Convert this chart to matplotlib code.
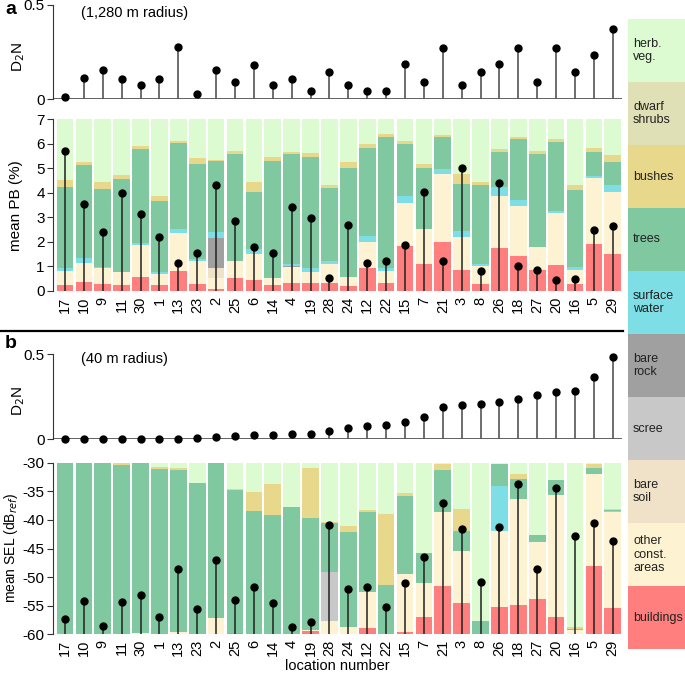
import matplotlib
matplotlib.use('Agg')
import matplotlib.pyplot as plt
import numpy as np
from matplotlib.patches import Rectangle
from matplotlib.lines import Line2D

plt.rcParams['font.family'] = ['Liberation Sans', 'DejaVu Sans']

# ---------------- data ----------------
locations = ['17', '10', '9', '11', '30', '1', '13', '23', '2', '25', '6', '14', '4', '19', '28',
             '24', '12', '22', '15', '7', '21', '3', '8', '26', '18', '27', '20', '16', '5', '29']

d2n_1280 = [0.012, 0.115, 0.157, 0.109, 0.074, 0.109, 0.276, 0.027, 0.157, 0.093, 0.183, 0.074, 0.108, 0.045, 0.146,
            0.074, 0.044, 0.044, 0.186, 0.092, 0.274, 0.074, 0.146, 0.186, 0.274, 0.092, 0.274, 0.146, 0.233, 0.373]
d2n_40 = [0.0, 0.0, 0.0, 0.0, 0.0, 0.002, 0.004, 0.008, 0.012, 0.02, 0.024, 0.024, 0.029, 0.03, 0.051,
          0.065, 0.076, 0.086, 0.10, 0.129, 0.188, 0.20, 0.208, 0.22, 0.239, 0.263, 0.276, 0.286, 0.367, 0.486]

categories = ['buildings', 'other\nconst.\nareas', 'bare\nsoil', 'scree', 'bare\nrock', 'surface\nwater',
              'trees', 'bushes', 'dwarf\nshrubs', 'herb.\nveg.']
cat_colors = ['#ff7f7f', '#fdf3d2', '#f0e2c8', '#c8c8c8', '#a0a0a0', '#7ddee6',
              '#7fc8a0', '#e7d88c', '#e0e0b6', '#dcfbd0']

# panel a: mean PB (%) per land-cover class
pb_buildings = [0.24, 0.35, 0.29, 0.24, 0.56, 0.24, 0.83, 0.30, 0.10, 0.54, 0.46, 0.23, 0.34, 0.34, 0.31,
                0.22, 0.94, 0.31, 1.83, 1.10, 2.01, 0.84, 0.30, 1.77, 1.43, 0.86, 1.06, 0.30, 1.93, 1.52]
pb_other = [0.59, 0.78, 0.66, 0.52, 1.32, 0.47, 1.55, 0.92, 0.42, 0.68, 1.04, 0.30, 0.62, 0.45, 0.78,
            0.34, 1.06, 0.52, 1.77, 1.41, 2.76, 1.38, 0.71, 2.10, 2.05, 0.93, 2.11, 0.57, 2.68, 2.52]
pb_soil = [0, 0, 0, 0, 0, 0, 0, 0, 0.40, 0, 0, 0, 0, 0, 0,
           0, 0, 0, 0, 0, 0, 0, 0, 0, 0, 0, 0, 0, 0, 0]
pb_scree = [0] * 30
pb_rock = [0, 0, 0, 0, 0, 0, 0, 0, 1.23, 0, 0, 0, 0.07, 0, 0,
           0, 0, 0, 0, 0, 0, 0, 0, 0, 0, 0, 0, 0, 0, 0]
pb_water = [0.09, 0.20, 0.04, 0, 0.09, 0.08, 0.15, 0.10, 0.26, 0, 0.21, 0, 0.07, 0.13, 0.13,
            0, 0.24, 0.11, 0.29, 0, 0.22, 0.24, 0.08, 0.38, 0.23, 0, 0.09, 0.11, 0.09, 0.28]
pb_trees = [3.33, 3.81, 3.17, 3.82, 3.82, 2.89, 3.49, 3.85, 2.89, 4.35, 2.34, 4.77, 4.49, 4.56, 2.99,
            4.47, 3.60, 5.34, 2.10, 2.52, 1.28, 1.89, 3.23, 1.43, 2.49, 3.81, 2.80, 3.15, 0.98, 0.93]
pb_bushes = [0.28, 0.12, 0.27, 0.14, 0.12, 0.19, 0.11, 0.27, 0.03, 0.14, 0.39, 0.18, 0.08, 0.13, 0.11,
             0.23, 0.15, 0.12, 0.14, 0.15, 0.09, 0.41, 0.12, 0.12, 0.08, 0.12, 0.14, 0.19, 0.14, 0.30]
pb_dwarf = [0] * 30
pb_herb = [2.47, 1.74, 2.57, 2.28, 1.09, 3.13, 0.87, 1.56, 1.67, 1.29, 2.56, 1.52, 1.33, 1.39, 2.68,
           1.74, 1.01, 0.60, 0.87, 1.82, 0.64, 2.24, 2.56, 1.20, 0.72, 1.28, 0.80, 2.68, 1.18, 1.45]
pb_mean = [5.72, 3.55, 2.42, 4.01, 3.13, 2.19, 1.16, 1.56, 4.31, 2.85, 1.81, 1.56, 3.41, 2.99, 0.53,
           2.69, 1.16, 1.22, 1.86, 4.05, 1.22, 5.03, 0.82, 4.40, 1.02, 0.86, 0.46, 0.48, 2.50, 2.64]

# panel b: mean SEL (dB_ref) per class, heights above the -60 dB floor
sel_floor = -60
sel_buildings = [0, 0, 0, 0, 0, 0, 0, 0, 0, 0.15, 0, 0, 0, 0.65, 0,
                 0, 1.15, 0, 0.4, 3.1, 8.45, 5.4, 0, 4.7, 5.1, 6.2, 3.0, 0, 12.0, 4.55]
sel_other = [0, 0, 0, 0, 0.2, 0, 0.4, 0, 2.8, 0, 0, 0, 0, 0.15, 2.4,
             1.35, 6.25, 0, 10.2, 5.8, 12.95, 9.2, 0, 13.35, 18.55, 9.9, 21.35, 0.8, 16.1, 16.85]
sel_soil = [0] * 30
sel_scree = [0, 0, 0, 0, 0, 0, 0, 0, 0, 0, 0, 0, 0, 0, 8.5,
             0, 0, 0, 0, 0, 0, 0, 0, 0, 0, 0, 0, 0, 0, 0]
sel_rock = [0] * 30
sel_water = [0, 0, 0, 0, 0, 0, 0, 0, 0, 0, 0, 0, 0, 0, 0,
             0, 0, 0, 0, 0, 0, 0, 0, 7.95, 0, 0, 0, 0, 0, 0.1]
sel_trees = [30, 30, 30, 29.6, 29.8, 28.9, 28.25, 26.45, 27.2, 25.05, 21.55, 20.8, 22.25, 19.5, 8.6,
             16.45, 14.0, 8.7, 13.6, 5.25, 7.4, 3.5, 2.3, 3.7, 3.55, 1.3, 2.65, 0.2, 0.9, 0.25]
sel_bushes = [0, 0, 0, 0.3, 0, 0.4, 0.35, 0, 0, 0.2, 3.35, 5.5, 0, 8.8, 0.2,
              1.1, 0.4, 12.4, 0.5, 0, 1.0, 3.8, 0, 0, 0.9, 0, 0, 0.2, 0.8, 0.2]
sel_dwarf = [0] * 30
sel_herb = [0, 0, 0, 0.1, 0, 0.7, 1.0, 3.55, 0, 4.6, 5.1, 3.7, 7.75, 0.9, 10.3,
            11.1, 8.2, 8.9, 5.3, 15.85, 0.2, 8.1, 27.7, 0.3, 1.9, 12.6, 3.0, 28.8, 0.2, 8.05]
sel_mean = [-57.3, -54.1, -58.6, -54.35, -53.1, -57.0, -48.6, -55.5, -47.0, -54.0, -51.8, -54.6, -58.8, -57.85, -40.95,
            -52.1, -51.7, -55.2, -51.1, -46.5, -37.1, -41.65, -50.9, -41.2, -33.7, -48.6, -34.4, -42.75, -40.6, -43.7]

pb_layers = [pb_buildings, pb_other, pb_soil, pb_scree, pb_rock, pb_water, pb_trees, pb_bushes, pb_dwarf, pb_herb]
sel_layers = [sel_buildings, sel_other, sel_soil, sel_scree, sel_rock, sel_water, sel_trees, sel_bushes, sel_dwarf, sel_herb]

# ---------------- figure ----------------
W, H = 685, 676
fig = plt.figure(figsize=(W / 100, H / 100), dpi=100)

def fax(x0, y_top, x1, y_bot):
    return fig.add_axes([x0 / W, 1 - y_bot / H, (x1 - x0) / W, (y_bot - y_top) / H])

AX_L, AX_R = 53, 622
x = np.arange(len(locations))
XLIM = (-0.635, 29.49)
TICK_FS = 11
GRAY = '#555555'

def style_left(ax):
    for s in ['top', 'right', 'bottom']:
        ax.spines[s].set_visible(False)
    ax.spines['left'].set_color('#333333')
    ax.tick_params(axis='y', direction='out', length=4, color='#333333', labelsize=TICK_FS, pad=2)

def d2n_panel(ax, vals):
    style_left(ax)
    ax.set_xlim(*XLIM)
    ax.set_ylim(0, 0.5)
    ax.set_yticks([0, 0.5])
    ax.set_yticklabels(['0', '0.5'])
    ax.set_xticks([])
    ax.axhline(0, color=GRAY, lw=1.3, zorder=1)
    ax.vlines(x, 0, vals, color=GRAY, lw=1.2, zorder=2)
    ax.plot(x, vals, 'o', color='black', ms=5, zorder=3, clip_on=False)
    ax.set_ylabel('D$_2$N', fontsize=11)
    ax.yaxis.set_label_coords(-0.045, 0.45)

def stacked_panel(ax, layers, floor, means, ylim, yticks, ylabel):
    style_left(ax)
    ax.set_xlim(*XLIM)
    ax.set_ylim(*ylim)
    bottom = np.full(len(x), float(floor))
    for vals, col in zip(layers, cat_colors):
        v = np.array(vals, dtype=float)
        ax.bar(x, v, width=0.88, bottom=bottom, color=col, edgecolor='none', zorder=1)
        bottom = bottom + v
    ax.vlines(x, floor, means, color='#222222', lw=1.3, alpha=0.85, zorder=3)
    ax.plot(x, means, 'o', color='black', ms=5, zorder=4)
    ax.set_yticks(yticks)
    ax.set_xticks(x)
    ax.set_xticklabels(locations, rotation=90, fontsize=10.5)
    ax.tick_params(axis='x', length=0, pad=4)
    ax.set_ylabel(ylabel, fontsize=11)

# panel a
ax_a1 = fax(AX_L, 5, AX_R, 99.3)
d2n_panel(ax_a1, d2n_1280)
ax_a1.text(0.05, 0.91, '(1,280 m radius)', transform=ax_a1.transAxes, fontsize=10.5, va='center', ha='left')

ax_a2 = fax(AX_L, 119.3, AX_R, 291)
stacked_panel(ax_a2, pb_layers, 0, pb_mean, (0, 7), range(0, 8), 'mean PB (%)')
ax_a2.yaxis.set_label_coords(-0.052, 0.5)

# panel b
ax_b1 = fax(AX_L, 354.3, AX_R, 439.3)
d2n_panel(ax_b1, d2n_40)
ax_b1.text(0.05, 0.95, '(40 m radius)', transform=ax_b1.transAxes, fontsize=10.5, va='center', ha='left')

ax_b2 = fax(AX_L, 462.7, AX_R, 634.3)
stacked_panel(ax_b2, sel_layers, sel_floor, sel_mean, (-60, -30), range(-60, -29, 5),
              'mean SEL (dB$_{ref}$)')
ax_b2.set_yticklabels([str(t) for t in range(-60, -29, 5)])
ax_b2.yaxis.label.set_fontsize(10)
ax_b2.yaxis.set_label_coords(-0.058, 0.5)
ax_b2.set_xlabel('location number', fontsize=10.5, labelpad=2)

# panel letters
fig.text(5 / W, 1 - 10 / H, 'a', fontsize=14, fontweight='bold', va='center', ha='left')
fig.text(5 / W, 1 - 343 / H, 'b', fontsize=14, fontweight='bold', va='center', ha='left')

# separator line between panels
fig.add_artist(Line2D([0, 623 / W], [1 - 330.5 / H, 1 - 330.5 / H], color='black', lw=1.6,
                      transform=fig.transFigure))

# legend boxes (top to bottom: herb. veg. ... buildings)
box_top, box_h = 19, 63
for i, (lab, col) in enumerate(zip(categories[::-1], cat_colors[::-1])):
    y0 = box_top + i * box_h
    fig.add_artist(Rectangle((628 / W, 1 - (y0 + box_h) / H), (W - 628) / W, box_h / H,
                             facecolor=col, edgecolor='none', transform=fig.transFigure))
    fig.text(633 / W, 1 - (y0 + box_h / 2) / H, lab, fontsize=9, va='center', ha='left',
             linespacing=1.15, color='#222222')

fig.savefig('out.png', dpi=100)
